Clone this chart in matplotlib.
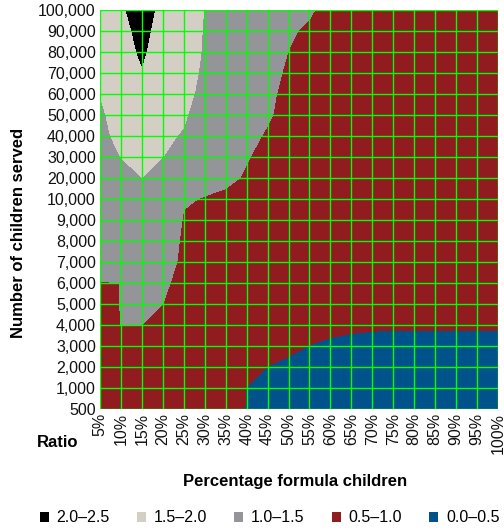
import numpy as np
import matplotlib.pyplot as plt
from matplotlib.patches import Patch

plt.rcParams['font.family'] = ['Liberation Sans', 'DejaVu Sans']

pct_labels = ['5%', '10%', '15%', '20%', '25%', '30%', '35%', '40%', '45%', '50%',
              '55%', '60%', '65%', '70%', '75%', '80%', '85%', '90%', '95%', '100%']
children = [500, 1000, 2000, 3000, 4000, 5000, 6000, 7000, 8000, 9000,
            10000, 20000, 30000, 40000, 50000, 60000, 70000, 80000, 90000, 100000]

# ratio per percentage column, listed bottom (500) to top (100,000)
ratio_5 = [0.80, 0.82, 0.85, 0.87, 0.90, 0.95, 0.99, 1.10, 1.13, 1.16, 1.20, 1.25, 1.30, 1.40, 1.45, 1.505, 1.60, 1.65, 1.70, 1.75]
ratio_10 = [0.75, 0.78, 0.82, 0.90, 1.002, 1.003, 1.0005, 1.10, 1.15, 1.20, 1.27, 1.38, 1.501, 1.60, 1.63, 1.66, 1.68, 1.70, 1.73, 1.87]
ratio_15 = [0.72, 0.75, 0.80, 0.90, 1.001, 1.05, 1.10, 1.15, 1.20, 1.27, 1.35, 1.499, 1.62, 1.72, 1.80, 1.88, 1.95, 2.10, 2.25, 2.40]
ratio_20 = [0.70, 0.72, 0.76, 0.82, 0.90, 0.999, 1.05, 1.10, 1.15, 1.20, 1.28, 1.38, 1.501, 1.54, 1.56, 1.58, 1.60, 1.61, 1.625, 1.733]
ratio_25 = [0.65, 0.70, 0.75, 0.80, 0.85, 0.88, 0.907, 0.95, 0.96, 0.98, 1.02, 1.15, 1.30, 1.48, 1.53, 1.55, 1.56, 1.57, 1.58, 1.60]
ratio_30 = [0.62, 0.65, 0.68, 0.72, 0.76, 0.80, 0.84, 0.87, 0.90, 0.95, 0.99, 1.06, 1.15, 1.25, 1.363, 1.45, 1.474, 1.485, 1.489, 1.494]
ratio_35 = [0.70, 0.72, 0.74, 0.76, 0.78, 0.80, 0.82, 0.85, 0.88, 0.92, 0.96, 1.04, 1.12, 1.18, 1.23, 1.27, 1.30, 1.32, 1.34, 1.36]
ratio_40 = [0.48, 0.495, 0.60, 0.65, 0.70, 0.74, 0.78, 0.82, 0.86, 0.90, 0.94, 0.98, 1.01, 1.05, 1.10, 1.14, 1.17, 1.20, 1.22, 1.24]
ratio_45 = [0.40, 0.45, 0.495, 0.60, 0.65, 0.70, 0.74, 0.78, 0.82, 0.85, 0.88, 0.92, 0.95, 0.98, 1.02, 1.03, 1.043, 1.06, 1.08, 1.10]
ratio_50 = [0.35, 0.40, 0.45, 0.55, 0.62, 0.66, 0.70, 0.73, 0.76, 0.79, 0.82, 0.85, 0.88, 0.91, 0.94, 0.96, 0.98, 0.998, 1.02, 1.04]
ratio_55 = [0.30, 0.35, 0.42, 0.495, 0.60, 0.64, 0.67, 0.70, 0.73, 0.76, 0.79, 0.82, 0.85, 0.88, 0.90, 0.92, 0.94, 0.96, 0.975, 1.02]
ratio_60 = [0.28, 0.33, 0.40, 0.46, 0.56, 0.60, 0.63, 0.66, 0.69, 0.72, 0.75, 0.78, 0.80, 0.82, 0.84, 0.86, 0.88, 0.90, 0.92, 0.94]
ratio_65 = [0.26, 0.31, 0.38, 0.44, 0.54, 0.58, 0.61, 0.64, 0.67, 0.70, 0.72, 0.75, 0.77, 0.79, 0.81, 0.83, 0.85, 0.87, 0.89, 0.90]
ratio_70 = [0.24, 0.30, 0.37, 0.43, 0.53, 0.57, 0.60, 0.62, 0.65, 0.68, 0.70, 0.73, 0.75, 0.77, 0.79, 0.81, 0.83, 0.84, 0.86, 0.87]
ratio_75 = [0.22, 0.28, 0.36, 0.425, 0.525, 0.56, 0.59, 0.61, 0.64, 0.66, 0.68, 0.71, 0.73, 0.75, 0.77, 0.78, 0.80, 0.81, 0.83, 0.84]
ratio_80 = [0.21, 0.27, 0.35, 0.425, 0.525, 0.555, 0.58, 0.60, 0.63, 0.65, 0.67, 0.70, 0.72, 0.74, 0.76, 0.77, 0.79, 0.80, 0.82, 0.83]
ratio_85 = [0.20, 0.26, 0.35, 0.425, 0.525, 0.55, 0.57, 0.60, 0.62, 0.64, 0.66, 0.69, 0.71, 0.73, 0.75, 0.76, 0.78, 0.79, 0.81, 0.82]
ratio_90 = [0.19, 0.25, 0.34, 0.425, 0.525, 0.55, 0.57, 0.59, 0.61, 0.63, 0.65, 0.68, 0.70, 0.72, 0.74, 0.75, 0.77, 0.78, 0.80, 0.81]
ratio_95 = [0.18, 0.24, 0.34, 0.425, 0.525, 0.545, 0.56, 0.58, 0.60, 0.62, 0.64, 0.67, 0.69, 0.71, 0.73, 0.74, 0.76, 0.77, 0.79, 0.80]
ratio_100 = [0.17, 0.23, 0.33, 0.425, 0.525, 0.54, 0.56, 0.58, 0.60, 0.62, 0.64, 0.66, 0.68, 0.70, 0.72, 0.73, 0.75, 0.76, 0.78, 0.79]

ratio_levels = [0.0, 0.5, 1.0, 1.5, 2.0, 2.5]
band_labels = ['0.0\u20130.5', '0.5\u20131.0', '1.0\u20131.5', '1.5\u20132.0', '2.0\u20132.5']
band_colors = ['#00528a', '#901c1f', '#939598', '#d4cfc4', '#000000']

z = np.array([ratio_5, ratio_10, ratio_15, ratio_20, ratio_25, ratio_30, ratio_35,
              ratio_40, ratio_45, ratio_50, ratio_55, ratio_60, ratio_65, ratio_70,
              ratio_75, ratio_80, ratio_85, ratio_90, ratio_95, ratio_100]).T
xi = np.arange(len(pct_labels))
yi = np.arange(len(children))

fig, ax = plt.subplots(figsize=(5.04, 5.31), dpi=100)
fig.subplots_adjust(left=100/504, right=498/504, bottom=1 - 409/531, top=1 - 10/531)
ax.contourf(xi, yi, z, levels=ratio_levels, colors=band_colors, zorder=0)

# grid on top of the bands (lime for a visibility check)
ax.vlines(xi, yi[0], yi[-1], colors='lime', lw=1.0, zorder=5)
ax.hlines(yi, xi[0], xi[-1], colors='lime', lw=1.0, zorder=5)

ax.set_xticks(xi)
ax.set_xticklabels(pct_labels, rotation=90)
ax.set_yticks(yi)
ax.set_yticklabels([f'{c:,}' for c in children])
ax.set_xlim(xi[0], xi[-1])
ax.set_ylim(yi[0], yi[-1])
ax.tick_params(length=0, pad=3, labelsize=11.5, colors='#111111')
for s in ax.spines.values():
    s.set_visible(False)

ax.set_ylabel('Number of children served', fontsize=12, fontweight='bold')
ax.yaxis.set_label_coords(-0.186, 0.441)
ax.set_xlabel('Percentage formula children', fontsize=12, fontweight='bold')
ax.xaxis.set_label_coords(0.49, -0.162)
ax.text(-0.055, -0.085, 'Ratio', transform=ax.transAxes, ha='right', va='center',
        fontsize=12, fontweight='bold')

handles = [Patch(facecolor=c, edgecolor='none') for c in band_colors[::-1]]
fig.legend(handles, band_labels[::-1], loc='center', bbox_to_anchor=(0.535, 1 - 518/531),
           ncol=5, frameon=False, fontsize=11.5, handlelength=0.55, handleheight=0.55,
           handletextpad=0.5, columnspacing=1.7)

fig.savefig('out.png', dpi=100)
